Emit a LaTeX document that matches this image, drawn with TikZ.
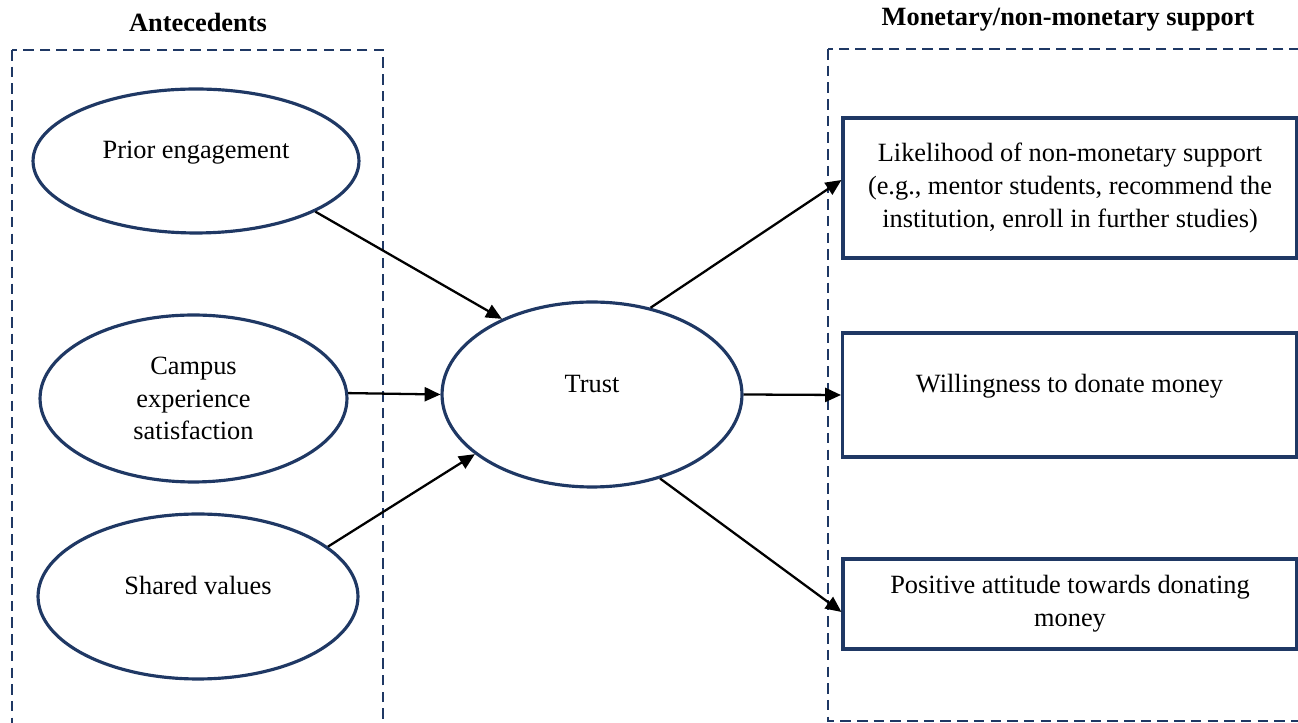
\documentclass[tikz,border=0pt]{standalone}
\usepackage{fontspec}
\setmainfont{Liberation Serif}
\usetikzlibrary{shapes.geometric,arrows.meta}
\definecolor{navy}{RGB}{31,56,100}

\begin{document}
\begin{tikzpicture}[x=0.02cm,y=0.02cm,font=\fontsize{15}{18.7}\selectfont,
	oval/.style={draw=navy,line width=1.8pt,ellipse,inner sep=0pt,align=center},
	outcome/.style={draw=navy,line width=1.8pt,rectangle,inner sep=0pt,align=center,minimum width=9.08cm},
	lifted/.style={text height=11pt,text depth=13.7pt},
	group/.style={draw=navy,line width=1.5pt,dash pattern=on 6pt off 3.5pt},
	link/.style={line width=1.3pt,-{Triangle[length=9pt,width=8pt]}}]
	\useasboundingbox (0,0) rectangle (1298,723);

	\draw[group] (12,673) rectangle (383,-10);%linker Rahmen
	\draw[group] (828,674) rectangle (1310,2);%rechter Rahmen
	\node[font=\fontsize{15}{18.7}\bfseries] (antehead) at (198,701) {Antecedents};
	\node[font=\fontsize{15}{18.7}\bfseries] (supphead) at (1068,703) {Monetary/non-monetary support};

	\node[oval,lifted,minimum width=6.52cm,minimum height=2.88cm] (prior) at (196,562) {Prior engagement};
	\node[oval,minimum width=6.14cm,minimum height=3.34cm] (campus) at (193.5,324.5) {Campus\\experience\\satisfaction};
	\node[oval,lifted,minimum width=6.4cm,minimum height=3.3cm] (shared) at (198,126.5) {Shared values};
	\node[oval,lifted,minimum width=6cm,minimum height=3.7cm] (trust) at (592,328.5) {Trust};

	\node[outcome,minimum height=2.8cm] (like) at (1070,535) {Likelihood of non-monetary support\\(e.g., mentor students, recommend the\\institution, enroll in further studies)};
	\node[outcome,lifted,minimum height=2.48cm] (will) at (1069.5,328) {Willingness to donate money};
	\node[outcome,minimum height=1.8cm] (pos) at (1070,119) {Positive attitude towards donating\\money};

	\draw[link] (prior.-23) -- (trust.140);%upper arrow
	\draw[link] (campus.2) -- (trust.180);%middle arrow
	\draw[link] (shared.21) -- (trust.207);%lower arrow
	\draw[link] (trust.56) -- (like.178);
	\draw[link] (trust.east) -- (will.west);
	\draw[link] (trust.-51) -- (pos.182);

\end{tikzpicture}
\end{document}
